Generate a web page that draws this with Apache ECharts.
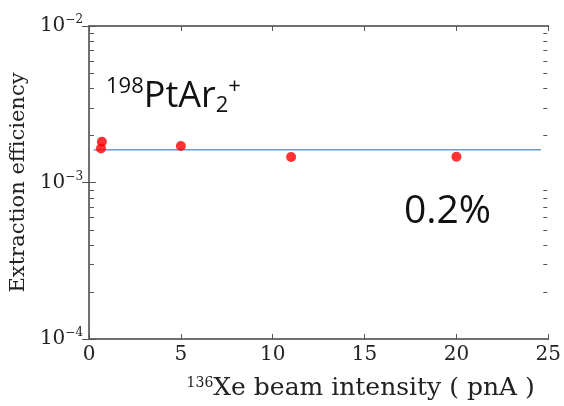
<!DOCTYPE html>
<html>
<head>
<meta charset="utf-8">
<script src="https://cdn.jsdelivr.net/npm/echarts@6/dist/echarts.min.js"></script>
<style>
html,body{margin:0;padding:0;background:#fff;}
#main{width:564px;height:406px;}
</style>
</head>
<body>
<div id="main"></div>
<script>
// measured points (pnA, efficiency)
var beamX = [0.7, 0.65, 5, 11, 20];
var effY = [1.82e-3, 1.65e-3, 1.71e-3, 1.455e-3, 1.46e-3];
// fitted level line
var fitX = [0.25, 24.6];
var fitY = [1.62e-3, 1.62e-3];
var xTicks = [0, 5, 10, 15, 20, 25];
// log minor ticks 2..9 per decade
var minorVals = [];
[1e-4, 1e-3].forEach(function (d) {
    for (var k = 2; k <= 9; k++) minorVals.push(d * k);
});

var serif = '"DejaVu Serif", "Liberation Serif", serif';
var sans = '"Open Sans", "Noto Sans", sans-serif';
var axisCol = '#707070';

var pts = [];
for (var i = 0; i < beamX.length; i++) pts.push([beamX[i], effY[i]]);
var fit = [];
for (var j = 0; j < fitX.length; j++) fit.push([fitX[j], fitY[j]]);

var myChart = echarts.init(document.getElementById('main'));
var option = {
    animation: false,
    grid: {left: 87, right: 13, top: 26, bottom: 64},
    xAxis: [{
        type: 'value', min: 0, max: 25, interval: 5,
        axisLine: {lineStyle: {color: axisCol, width: 2}},
        axisTick: {inside: true, length: 5, lineStyle: {color: '#555'}},
        splitLine: {show: false},
        axisLabel: {
            color: '#222', fontFamily: serif, fontSize: 20, margin: 6,
            formatter: function (v) { return xTicks.indexOf(v) >= 0 ? String(v) : ''; },
            showMinLabel: true, showMaxLabel: true
        },
        name: '{s|136}Xe beam intensity ( pnA )',
        nameLocation: 'middle', nameGap: 37,
        nameTextStyle: {
            color: '#222', fontFamily: serif, fontSize: 25,
            padding: [0, 0, 0, 84],
            rich: {s: {fontSize: 14, fontFamily: serif, color: '#222', padding: [0, 0, 10, 0]}}
        }
    }, {
        type: 'value', min: 0, max: 25, interval: 5, position: 'top',
        axisLine: {lineStyle: {color: axisCol, width: 2}},
        axisTick: {inside: true, length: 5, lineStyle: {color: '#555'}},
        axisLabel: {show: false}, splitLine: {show: false}
    }],
    yAxis: [{
        type: 'log', logBase: 10, min: 1e-4, max: 1e-2,
        axisLine: {show: true, lineStyle: {color: axisCol, width: 2}},
        axisTick: {inside: true, length: 7, lineStyle: {color: '#555'}},
        splitLine: {show: false},
        axisLabel: {
            color: '#222', fontFamily: serif, fontSize: 20, margin: 6,
            formatter: function (v) {
                var e = Math.round(Math.log10(v));
                return '10{s|\u2212' + Math.abs(e) + '}';
            },
            rich: {s: {fontSize: 12, fontFamily: serif, color: '#222', padding: [0, 0, 12, 0]}}
        },
        name: 'Extraction efficiency',
        nameLocation: 'middle', nameGap: 53,
        nameTextStyle: {color: '#222', fontFamily: serif, fontSize: 21}
    }, {
        type: 'log', logBase: 10, min: 1e-4, max: 1e-2, position: 'right',
        axisLine: {show: true, lineStyle: {color: axisCol, width: 2}},
        axisTick: {inside: true, length: 7, lineStyle: {color: '#555'}},
        axisLabel: {show: false}, splitLine: {show: false}
    }],
    series: [{
        type: 'custom',
        data: minorVals,
        silent: true,
        clip: false,
        z: 5,
        renderItem: function (params, api) {
            var v = api.value(0);
            var cs = params.coordSys;
            var p = api.coord([12.5, v]);
            var y = Math.round(p[1]) + 0.5;
            var xl = cs.x, xr = cs.x + cs.width;
            var st = {stroke: '#555', lineWidth: 1};
            return {
                type: 'group',
                children: [
                    {type: 'line', shape: {x1: xl + 1, y1: y, x2: xl + 5, y2: y}, style: st},
                    {type: 'line', shape: {x1: xr - 1, y1: y, x2: xr - 5, y2: y}, style: st}
                ]
            };
        },
        encode: {y: 0}
    }, {
        type: 'line',
        data: fit,
        symbol: 'none',
        lineStyle: {color: '#6a9ad6', width: 1.5},
        z: 3
    }, {
        type: 'scatter',
        data: pts,
        symbolSize: 10,
        itemStyle: {color: '#ff0000'},
        z: 4
    }],
    graphic: [{
        type: 'text', left: 106, top: 76,
        style: {
            text: '{s|198}PtAr{b|2}{s|+}',
            fill: '#111',
            rich: {
                s: {fontSize: 22, fontFamily: sans, fill: '#111', padding: [0, 0, 19, 0]},
                b: {fontSize: 22, fontFamily: sans, fill: '#111', padding: [19, 0, 0, 0]}
            },
            font: '36px ' + sans
        }
    }, {
        type: 'text', left: 404, top: 192,
        style: {text: '0.2%', fill: '#111', font: '39px ' + sans}
    }]
};
myChart.setOption(option);
</script>
</body>
</html>
